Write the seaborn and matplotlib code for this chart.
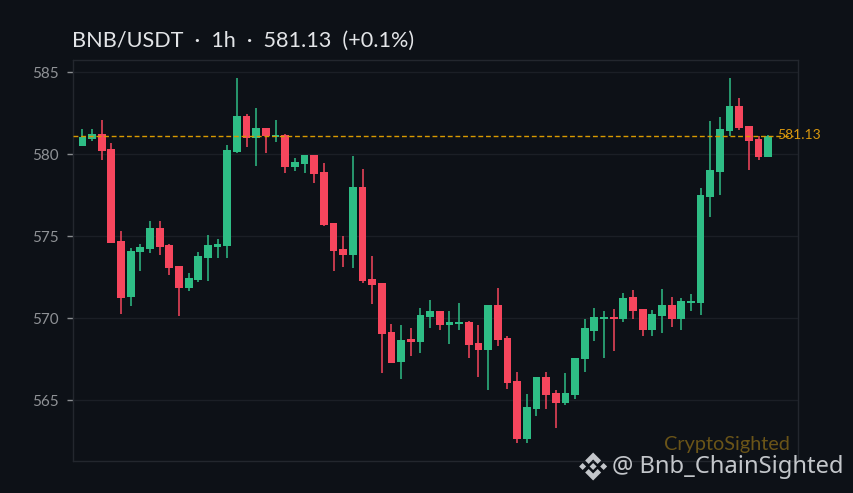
import numpy as np
import pandas as pd
import matplotlib
matplotlib.use('Agg')
import matplotlib.pyplot as plt
from matplotlib.patches import Polygon
import seaborn as sns

# values, one candle per hour
opens = [580.51, 580.93, 581.24, 580.33, 574.72, 571.30, 574.04, 574.23, 575.51, 574.47, 573.19, 571.85,
         572.34, 573.68, 574.35, 574.41, 580.14, 582.34, 581.00, 581.61, 581.06, 581.18, 579.23, 579.41,
         579.96, 578.92, 575.81, 574.23, 573.86, 578.01, 572.40, 572.15, 569.17, 567.34, 568.74, 568.56,
         570.08, 570.45, 569.59, 569.65, 569.78, 568.50, 568.07, 570.81, 568.80, 566.18, 562.64, 564.47,
         566.42, 565.45, 564.84, 565.33, 567.52, 569.23, 569.96, 570.08, 569.96, 571.30, 570.57, 569.29,
         570.14, 570.81, 569.96, 570.93, 570.93, 577.40, 578.92, 581.42, 582.95, 581.73, 580.93, 579.84]
highs = [581.54, 581.54, 582.09, 580.69, 575.33, 574.29, 574.53, 575.93, 575.93, 574.53, 573.19, 572.76,
         574.04, 575.08, 574.84, 580.57, 584.65, 582.46, 582.83, 581.61, 582.09, 581.24, 579.78, 579.96,
         579.96, 579.47, 575.81, 575.00, 579.90, 579.11, 573.80, 572.15, 569.65, 569.59, 569.41, 570.63,
         571.12, 570.45, 570.45, 570.93, 569.84, 569.59, 570.81, 571.85, 568.92, 566.73, 565.39, 566.42,
         566.73, 565.63, 566.67, 567.58, 569.96, 570.63, 570.45, 570.57, 571.54, 571.73, 570.57, 570.51,
         571.79, 571.30, 571.24, 571.48, 577.95, 582.03, 582.28, 584.65, 583.43, 581.73, 581.12, 581.18]
lows = [580.47, 580.81, 579.65, 574.59, 570.26, 570.75, 572.89, 573.98, 573.86, 572.64, 570.14, 571.67,
        572.22, 572.28, 573.68, 573.68, 580.08, 580.45, 579.29, 580.08, 580.75, 578.86, 578.98, 578.86,
        578.25, 575.63, 572.89, 573.13, 573.07, 572.15, 570.87, 566.67, 567.28, 566.30, 567.70, 567.89,
        569.41, 569.29, 568.43, 569.29, 567.58, 566.42, 565.63, 568.31, 565.69, 562.40, 562.40, 564.04,
        564.47, 563.31, 564.72, 565.08, 566.73, 568.62, 567.58, 568.01, 569.78, 569.96, 568.92, 568.92,
        569.11, 569.47, 569.29, 570.45, 570.20, 576.18, 577.52, 581.12, 581.48, 579.04, 579.65, 579.84]
closes = [581.06, 581.24, 580.20, 574.59, 571.24, 574.11, 574.35, 575.51, 574.35, 573.07, 571.85, 572.46,
          573.80, 574.47, 574.53, 580.26, 582.34, 581.00, 581.61, 581.12, 581.18, 579.23, 579.53, 579.96,
          578.80, 575.69, 574.11, 573.86, 578.01, 572.28, 572.03, 569.04, 567.28, 568.68, 568.56, 570.20,
          570.45, 569.59, 569.78, 569.78, 568.37, 568.07, 570.81, 568.68, 566.06, 562.64, 564.59, 566.42,
          565.33, 564.84, 565.45, 567.58, 569.41, 570.08, 570.08, 569.96, 571.24, 570.45, 569.29, 570.26,
          570.81, 569.96, 571.06, 571.06, 577.52, 579.04, 581.54, 582.95, 581.61, 580.81, 579.84, 581.13]
y_ticks = [565, 570, 575, 580, 585]
last_price = 581.13

BG = '#0d1117'
UP = '#2ebd85'
DOWN = '#f6465d'
FONT = ['Lato', 'DejaVu Sans']
W, H = 853, 493

sns.set_theme(style='dark')
plt.rcParams['font.family'] = FONT

df = pd.DataFrame({'open': opens, 'high': highs, 'low': lows, 'close': closes})
df['t'] = df.index
df['bottom'] = df[['open', 'close']].min(axis=1)
df['body'] = (df['close'] - df['open']).abs()
df['up'] = df['close'] >= df['open']

fig = plt.figure(figsize=((W + 0.2) / 100, (H + 0.2) / 100), dpi=100, facecolor=BG)
ax = fig.add_axes([72.7 / W, 1 - 461 / H, (798 - 72.7) / W, (461 - 60.5) / H], facecolor=BG)

# wicks first, bodies on top
ax.vlines(df['t'], df['low'], df['high'], colors=np.where(df['up'], UP, DOWN), linewidth=1.1, zorder=2)
for is_up, colour in [(True, UP), (False, DOWN)]:
    part = df[df['up'] == is_up]
    sns.barplot(data=part, x='t', y='body', bottom=part['bottom'].values, native_scale=True, color=colour,
                saturation=1, width=0.8, linewidth=0, errorbar=None, ax=ax, zorder=3)

ax.axhline(last_price, xmax=0.993, color='#d99a00', linestyle=(0, (3.5, 2)), linewidth=1.0, zorder=4)
ax.text(777, H - 134.5, f'{last_price:.2f}', transform=None, color='#d9970f', fontsize=10, va='center', zorder=5)

ax.set_xlim(-1.0, 74.1)
ax.set_ylim(561.3, 585.72)
ax.set_xlabel('')
ax.set_ylabel('')
ax.set_xticks([])
ax.set_yticks(y_ticks)
ax.grid(axis='y', color='#1b1f26', linewidth=1.0)
ax.grid(axis='x', visible=False)
ax.set_axisbelow(True)
ax.tick_params(axis='y', left=True, length=4, width=1, color='#8a8d91', labelcolor='#8f9296', labelsize=11, pad=6)
for spine in ax.spines.values():
    spine.set_color('#23272e')
    spine.set_linewidth(1.0)

fig.text(72 / W, 1 - 41 / H, 'BNB/USDT  ·  1h  ·  581.13  (+0.1%)', color='#e3e5e8', fontsize=15.55, va='center')
fig.text(790 / W, 1 - 444 / H, 'CryptoSighted', color='#6a5418', fontsize=14.3, ha='right', va='center')
fig.text(612 / W, 1 - 467 / H, '@ Bnb_ChainSighted', color='#c3c6ca', fontsize=17.1, va='center', family=['Noto Sans', 'DejaVu Sans'])

# binance logo, in pixels
cx, cy = 593.0, 466.5
logo_parts = [
    [(-14, 0), (-10.5, -3.5), (-7, 0), (-10.5, 3.5)],
    [(14, 0), (10.5, -3.5), (7, 0), (10.5, 3.5)],
    [(0, -3.5), (3.5, 0), (0, 3.5), (-3.5, 0)],
    [(0, -14), (8, -6), (4.5, -2.5), (0, -7), (-4.5, -2.5), (-8, -6)],
    [(0, 14), (8, 6), (4.5, 2.5), (0, 7), (-4.5, 2.5), (-8, 6)],
]
for part in logo_parts:
    pts = [((cx + dx) / W, 1 - (cy + dy) / H) for dx, dy in part]
    fig.add_artist(Polygon(pts, closed=True, transform=fig.transFigure, facecolor='#c3c6ca', edgecolor='none'))

fig.savefig('out.png', dpi=100, facecolor=BG)
